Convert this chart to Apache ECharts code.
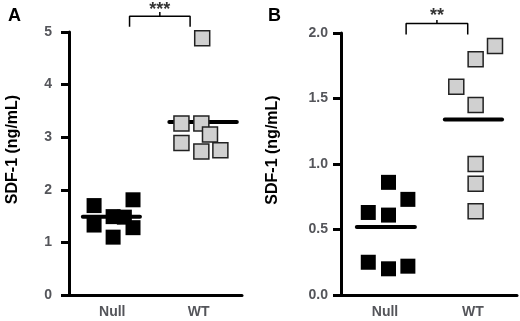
<!DOCTYPE html>
<html>
<head>
<meta charset="utf-8">
<script src="https://cdn.jsdelivr.net/npm/echarts@6/dist/echarts.min.js"></script>
<style>
  html, body { margin: 0; padding: 0; background: #fff; }
  #main { width: 520px; height: 321px; }
</style>
</head>
<body>
<div id="main"></div>
<script>
// group labels
var groups = ['Null', 'WT'];

// panel A: [x jitter around group centre, SDF-1 ng/mL]
var nullA = [[-0.21, 1.70], [-0.21, 1.33], [0.01, 1.49], [0.01, 1.10], [0.14, 1.48], [0.24, 1.81], [0.24, 1.28]];
var wtA = [[0.04, 4.88], [-0.20, 3.26], [0.03, 3.26], [0.13, 3.05], [-0.20, 2.89], [0.03, 2.73], [0.25, 2.75]];
var meanA = [1.49, 3.29];

// panel B
var nullB = [[-0.19, 0.63], [0.04, 0.86], [0.04, 0.61], [0.26, 0.73], [-0.19, 0.25], [0.04, 0.20], [0.26, 0.22]];
var wtB = [[0.25, 1.90], [0.03, 1.80], [-0.19, 1.59], [0.03, 1.45], [0.03, 1.00], [0.03, 0.85], [0.03, 0.64]];
var meanB = [0.52, 1.34];

var starsA = '***';
var starsB = '**';

var myChart = echarts.init(document.getElementById('main'));

function shift(pts, g) {
	return pts.map(function (p) { return [p[0] + g, p[1]]; });
}

function xAxisOf(idx) {
	return {
		type: 'value',
		gridIndex: idx,
		min: -0.5,
		max: 1.5,
		splitLine: { show: false },
		axisTick: { show: false },
		axisLine: { show: true, onZero: false, lineStyle: { color: '#000', width: 3 } },
		axisLabel: {
			customValues: [0, 1],
			formatter: function (v) { return v < 0.5 ? groups[0] : groups[1]; },
			fontWeight: 'bold',
			fontSize: 14,
			margin: 10
		}
	};
}

function yAxisOf(idx, max, interval, digits, gap, margin) {
	return {
		type: 'value',
		gridIndex: idx,
		min: 0,
		max: max,
		interval: interval,
		name: 'SDF-1 (ng/mL)',
		nameLocation: 'middle',
		nameGap: gap,
		nameTextStyle: { fontWeight: 'bold', fontSize: 16, padding: [0, 0, 0, 28] },
		splitLine: { show: false },
		axisLine: { show: true, onZero: false, lineStyle: { color: '#000', width: 3 } },
		axisTick: { show: true, length: 8, lineStyle: { color: '#000', width: 3 } },
		axisLabel: {
			formatter: function (v) { return v.toFixed(digits); },
			fontWeight: 'bold',
			fontSize: 14,
			margin: margin
		}
	};
}

function dots(idx, pts, fill) {
	return {
		type: 'scatter',
		xAxisIndex: idx,
		yAxisIndex: idx,
		symbol: 'rect',
		symbolSize: 15,
		z: 5,
		itemStyle: { color: fill, borderColor: '#222', borderWidth: fill === '#000' ? 0 : 1.5, opacity: 1 },
		data: pts
	};
}

function meanLine(idx, g, v, x0, x1) {
	return {
		type: 'line',
		xAxisIndex: idx,
		yAxisIndex: idx,
		symbol: 'none',
		z: 3,
		lineStyle: { color: '#000', width: 4, cap: 'round' },
		data: [[g + x0, v], [g + x1, v]]
	};
}

function bracket(idx, x0, x1, yLow, yHigh, yTick, yText, stars) {
	var xm = (x0 + x1) / 2;
	return [{
		type: 'line',
		xAxisIndex: idx,
		yAxisIndex: idx,
		symbol: 'none',
		clip: false,
		lineStyle: { color: '#000', width: 1.5 },
		data: [[x0, yLow], [x0, yHigh], [x1, yHigh], [x1, yLow]]
	}, {
		type: 'line',
		xAxisIndex: idx,
		yAxisIndex: idx,
		symbol: 'none',
		clip: false,
		lineStyle: { color: '#000', width: 1.5 },
		data: [[xm, yHigh], [xm, yTick]]
	}, {
		type: 'scatter',
		xAxisIndex: idx,
		yAxisIndex: idx,
		symbolSize: 0,
		clip: false,
		label: {
			show: true,
			position: 'inside',
			formatter: stars,
			color: '#000',
			fontWeight: 'bold',
			fontSize: 18
		},
		data: [[xm, yText]]
	}];
}

var option = {
	animation: false,
	title: [
		{ text: 'A', left: 3, top: 2, textStyle: { fontWeight: 'bold', fontSize: 18, color: '#000' } },
		{ text: 'B', left: 263, top: 2, textStyle: { fontWeight: 'bold', fontSize: 18, color: '#000' } }
	],
	grid: [
		{ left: 69, top: 32, width: 173, height: 263 },
		{ left: 341, top: 33, width: 176, height: 262 }
	],
	xAxis: [xAxisOf(0), xAxisOf(1)],
	yAxis: [yAxisOf(0, 5, 1, 0, 48, 17), yAxisOf(1, 2, 0.5, 1, 60, 13)],
	series: [].concat(
		[meanLine(0, 0, meanA[0], -0.34, 0.32), meanLine(0, 1, meanA[1], -0.34, 0.44)],
		[dots(0, shift(nullA, 0), '#000'), dots(0, shift(wtA, 1), '#d0d0d0')],
		bracket(0, 0.2, 0.9, 5.1, 5.3, 5.38, 5.42, starsA),
		[meanLine(1, 0, meanB[0], -0.32, 0.34), meanLine(1, 1, meanB[1], -0.32, 0.33)],
		[dots(1, shift(nullB, 0), '#000'), dots(1, shift(wtB, 1), '#d0d0d0')],
		bracket(1, 0.24, 0.94, 1.988, 2.072, 2.099, 2.13, starsB)
	)
};

myChart.setOption(option);
</script>
</body>
</html>
